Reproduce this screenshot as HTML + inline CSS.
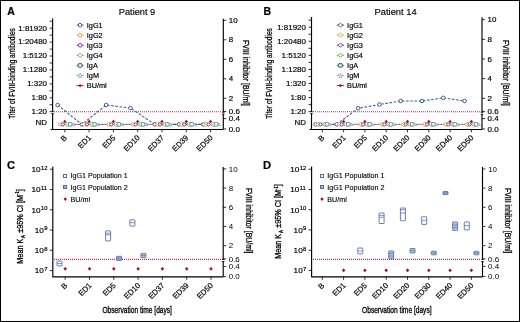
<!DOCTYPE html>
<html><head><meta charset="utf-8"><style>
html,body{margin:0;padding:0;background:#fff;}
svg{display:block;font-family:"Liberation Sans", sans-serif;will-change:transform;}
</style></head><body>
<svg width="520" height="322" viewBox="0 0 520 322">
<rect x="0" y="0" width="520" height="322" fill="#fff"/>
<text transform="translate(7.3,15.0)" font-size="10.5" text-anchor="start" font-weight="bold" fill="#000" stroke="#000" stroke-width="0.2">A</text>
<text transform="translate(118.8,15)" font-size="9.35" text-anchor="start" font-weight="normal" fill="#000" textLength="36.4" lengthAdjust="spacingAndGlyphs" stroke="#000" stroke-width="0.15">Patient 9</text>
<line x1="52.6" y1="18.4" x2="52.6" y2="129.3" stroke="#000" stroke-width="1.15" />
<line x1="49.6" y1="28.2" x2="52.6" y2="28.2" stroke="#000" stroke-width="0.8" />
<line x1="49.6" y1="42.12" x2="52.6" y2="42.12" stroke="#000" stroke-width="0.8" />
<line x1="49.6" y1="56.03" x2="52.6" y2="56.03" stroke="#000" stroke-width="0.8" />
<line x1="49.6" y1="69.95" x2="52.6" y2="69.95" stroke="#000" stroke-width="0.8" />
<line x1="49.6" y1="83.87" x2="52.6" y2="83.87" stroke="#000" stroke-width="0.8" />
<line x1="49.6" y1="97.78" x2="52.6" y2="97.78" stroke="#000" stroke-width="0.8" />
<line x1="49.6" y1="111.7" x2="52.6" y2="111.7" stroke="#000" stroke-width="0.8" />
<line x1="49.6" y1="21.24" x2="52.6" y2="21.24" stroke="#000" stroke-width="0.8" />
<line x1="49.6" y1="35.16" x2="52.6" y2="35.16" stroke="#000" stroke-width="0.8" />
<line x1="49.6" y1="49.08" x2="52.6" y2="49.08" stroke="#000" stroke-width="0.8" />
<line x1="49.6" y1="62.99" x2="52.6" y2="62.99" stroke="#000" stroke-width="0.8" />
<line x1="49.6" y1="76.91" x2="52.6" y2="76.91" stroke="#000" stroke-width="0.8" />
<line x1="49.6" y1="90.82" x2="52.6" y2="90.82" stroke="#000" stroke-width="0.8" />
<line x1="49.6" y1="104.74" x2="52.6" y2="104.74" stroke="#000" stroke-width="0.8" />
<text transform="translate(47.0,30.5) scale(1.02,1)" font-size="7.8" text-anchor="end" font-weight="normal" fill="#000" stroke="#000" stroke-width="0.18">1:81920</text>
<text transform="translate(47.0,44.42) scale(1.02,1)" font-size="7.8" text-anchor="end" font-weight="normal" fill="#000" stroke="#000" stroke-width="0.18">1:20480</text>
<text transform="translate(47.0,58.33) scale(1.02,1)" font-size="7.8" text-anchor="end" font-weight="normal" fill="#000" stroke="#000" stroke-width="0.18">1:5120</text>
<text transform="translate(47.0,72.25) scale(1.02,1)" font-size="7.8" text-anchor="end" font-weight="normal" fill="#000" stroke="#000" stroke-width="0.18">1:1280</text>
<text transform="translate(47.0,86.17) scale(1.02,1)" font-size="7.8" text-anchor="end" font-weight="normal" fill="#000" stroke="#000" stroke-width="0.18">1:320</text>
<text transform="translate(47.0,100.08) scale(1.02,1)" font-size="7.8" text-anchor="end" font-weight="normal" fill="#000" stroke="#000" stroke-width="0.18">1:80</text>
<text transform="translate(47.0,114.0) scale(1.02,1)" font-size="7.8" text-anchor="end" font-weight="normal" fill="#000" stroke="#000" stroke-width="0.18">1:20</text>
<text transform="translate(47.0,124.8) scale(1.02,1)" font-size="7.8" text-anchor="end" font-weight="normal" fill="#000" stroke="#000" stroke-width="0.18">ND</text>
<text transform="translate(14.9,73.4) rotate(-90)" font-size="9.9" text-anchor="middle" font-weight="normal" fill="#000" textLength="90.5" lengthAdjust="spacingAndGlyphs" stroke="#000" stroke-width="0.28">Titer of FVIII-binding antibodies</text>
<line x1="50.6" y1="129.5" x2="223.3" y2="129.5" stroke="#000" stroke-width="1.2" />
<line x1="223.3" y1="18.7" x2="223.3" y2="129.3" stroke="#000" stroke-width="1.15" />
<line x1="223.3" y1="20.3" x2="226.3" y2="20.3" stroke="#000" stroke-width="0.8" />
<text transform="translate(228.8,22.9) scale(1.05,1)" font-size="7.6" text-anchor="start" font-weight="normal" fill="#000" stroke="#000" stroke-width="0.18">10</text>
<line x1="223.3" y1="39.8" x2="226.3" y2="39.8" stroke="#000" stroke-width="0.8" />
<text transform="translate(228.8,42.4) scale(1.05,1)" font-size="7.6" text-anchor="start" font-weight="normal" fill="#000" stroke="#000" stroke-width="0.18">8</text>
<line x1="223.3" y1="59.3" x2="226.3" y2="59.3" stroke="#000" stroke-width="0.8" />
<text transform="translate(228.8,61.9) scale(1.05,1)" font-size="7.6" text-anchor="start" font-weight="normal" fill="#000" stroke="#000" stroke-width="0.18">6</text>
<line x1="223.3" y1="78.8" x2="226.3" y2="78.8" stroke="#000" stroke-width="0.8" />
<text transform="translate(228.8,81.4) scale(1.05,1)" font-size="7.6" text-anchor="start" font-weight="normal" fill="#000" stroke="#000" stroke-width="0.18">4</text>
<line x1="223.3" y1="98.3" x2="226.3" y2="98.3" stroke="#000" stroke-width="0.8" />
<text transform="translate(228.8,100.9) scale(1.05,1)" font-size="7.6" text-anchor="start" font-weight="normal" fill="#000" stroke="#000" stroke-width="0.18">2</text>
<line x1="223.3" y1="111.6" x2="226.3" y2="111.6" stroke="#000" stroke-width="0.8" />
<text transform="translate(228.8,114.2) scale(1.05,1)" font-size="7.6" text-anchor="start" font-weight="normal" fill="#000" stroke="#000" stroke-width="0.18">0.6</text>
<line x1="223.3" y1="118.6" x2="226.3" y2="118.6" stroke="#000" stroke-width="0.8" />
<text transform="translate(228.8,121.2) scale(1.05,1)" font-size="7.6" text-anchor="start" font-weight="normal" fill="#000" stroke="#000" stroke-width="0.18">0.4</text>
<line x1="223.3" y1="129.0" x2="226.3" y2="129.0" stroke="#000" stroke-width="0.8" />
<text transform="translate(228.8,131.6) scale(1.05,1)" font-size="7.6" text-anchor="start" font-weight="normal" fill="#000" stroke="#000" stroke-width="0.18">0.0</text>
<text transform="translate(242.70000000000002,72.9) rotate(90)" font-size="9.2" text-anchor="middle" font-weight="normal" fill="#000" textLength="65.8" lengthAdjust="spacingAndGlyphs" stroke="#000" stroke-width="0.28">FVIII inhibitor [BU/ml]</text>
<rect x="51.00" y="112.10" width="3.2" height="1.2" fill="#fff"/>
<line x1="51.3" y1="111.7" x2="53.9" y2="111.7" stroke="#000" stroke-width="0.8" />
<line x1="51.3" y1="113.7" x2="53.9" y2="113.7" stroke="#000" stroke-width="0.8" />
<rect x="221.70" y="112.60" width="3.2" height="1.2" fill="#fff"/>
<line x1="222.0" y1="112.2" x2="224.6" y2="112.2" stroke="#000" stroke-width="0.8" />
<line x1="222.0" y1="114.2" x2="224.6" y2="114.2" stroke="#000" stroke-width="0.8" />
<line x1="54" y1="111.8" x2="222" y2="111.8" stroke="#c42f5c" stroke-width="1.1" stroke-dasharray="1,1"/>
<line x1="64.8" y1="129.3" x2="64.8" y2="132.3" stroke="#000" stroke-width="0.8" />
<text transform="translate(67.39999999999999,138.3) rotate(-45)" font-size="7.7" text-anchor="end" font-weight="normal" fill="#000" stroke="#000" stroke-width="0.18">B</text>
<line x1="89.1" y1="129.3" x2="89.1" y2="132.3" stroke="#000" stroke-width="0.8" />
<text transform="translate(91.69999999999999,138.3) rotate(-45)" font-size="7.7" text-anchor="end" font-weight="normal" fill="#000" stroke="#000" stroke-width="0.18">ED1</text>
<line x1="113.4" y1="129.3" x2="113.4" y2="132.3" stroke="#000" stroke-width="0.8" />
<text transform="translate(116.0,138.3) rotate(-45)" font-size="7.7" text-anchor="end" font-weight="normal" fill="#000" stroke="#000" stroke-width="0.18">ED5</text>
<line x1="137.7" y1="129.3" x2="137.7" y2="132.3" stroke="#000" stroke-width="0.8" />
<text transform="translate(140.29999999999998,138.3) rotate(-45)" font-size="7.7" text-anchor="end" font-weight="normal" fill="#000" stroke="#000" stroke-width="0.18">ED10</text>
<line x1="162.0" y1="129.3" x2="162.0" y2="132.3" stroke="#000" stroke-width="0.8" />
<text transform="translate(164.6,138.3) rotate(-45)" font-size="7.7" text-anchor="end" font-weight="normal" fill="#000" stroke="#000" stroke-width="0.18">ED37</text>
<line x1="186.3" y1="129.3" x2="186.3" y2="132.3" stroke="#000" stroke-width="0.8" />
<text transform="translate(188.9,138.3) rotate(-45)" font-size="7.7" text-anchor="end" font-weight="normal" fill="#000" stroke="#000" stroke-width="0.18">ED39</text>
<line x1="210.60000000000002" y1="129.3" x2="210.60000000000002" y2="132.3" stroke="#000" stroke-width="0.8" />
<text transform="translate(213.20000000000002,138.3) rotate(-45)" font-size="7.7" text-anchor="end" font-weight="normal" fill="#000" stroke="#000" stroke-width="0.18">ED50</text>
<polyline points="60.199999999999996,124.4 84.5,124.4 108.80000000000001,124.4 133.1,124.4 157.4,124.4 181.70000000000002,124.4 206.00000000000003,124.4" fill="none" stroke="#eaa53c" stroke-width="1"/>
<polyline points="62.699999999999996,124.4 87.0,124.4 111.30000000000001,124.4 135.6,124.4 159.9,124.4 184.20000000000002,124.4 208.50000000000003,124.4" fill="none" stroke="#6a3e92" stroke-width="0.9" stroke-dasharray="1.5,1.5"/>
<polyline points="73.2,124.4 97.5,124.4 121.80000000000001,124.4 146.1,124.4 170.4,124.4 194.70000000000002,124.4 219.00000000000003,124.4" fill="none" stroke="#8e8ed8" stroke-width="0.8" stroke-dasharray="1.5,1.5"/>
<polyline points="57.599999999999994,105 81.89999999999999,124.4 106.2,105 130.5,108.1 154.8,124.4 179.10000000000002,124.4 203.40000000000003,124.4" fill="none" stroke="#3d5c9e" stroke-width="1.1" stroke-dasharray="2.6,1.6"/>
<circle cx="57.599999999999994" cy="105" r="1.8" stroke="#3d5c9e" fill="#fff" stroke-width="1.0"/>
<circle cx="81.89999999999999" cy="124.4" r="1.8" stroke="#3d5c9e" fill="#fff" stroke-width="1.0"/>
<circle cx="106.2" cy="105" r="1.8" stroke="#3d5c9e" fill="#fff" stroke-width="1.0"/>
<circle cx="130.5" cy="108.1" r="1.8" stroke="#3d5c9e" fill="#fff" stroke-width="1.0"/>
<circle cx="154.8" cy="124.4" r="1.8" stroke="#3d5c9e" fill="#fff" stroke-width="1.0"/>
<circle cx="179.10000000000002" cy="124.4" r="1.8" stroke="#3d5c9e" fill="#fff" stroke-width="1.0"/>
<circle cx="203.40000000000003" cy="124.4" r="1.8" stroke="#3d5c9e" fill="#fff" stroke-width="1.0"/>
<circle cx="60.199999999999996" cy="124.4" r="1.8" stroke="#eaa53c" fill="#fff" stroke-width="1.0"/>
<circle cx="62.699999999999996" cy="124.4" r="1.6" stroke="#6a3e92" fill="#fff" stroke-width="1.0"/>
<rect x="65.90" y="122.60" width="3.60" height="3.60" rx="1" fill="#fff" stroke="#6cb34a" stroke-width="0.8"/>
<rect x="68.40" y="122.60" width="3.60" height="3.60" rx="1" fill="#fff" stroke="#2f7557" stroke-width="0.8"/>
<path d="M71.60000000000001,125.68 L73.2,122.80000000000001 L74.8,125.68 Z" fill="#fff" stroke="#8e8ed8" stroke-width="0.8"/>
<circle cx="84.5" cy="124.4" r="1.8" stroke="#eaa53c" fill="#fff" stroke-width="1.0"/>
<circle cx="87.0" cy="124.4" r="1.6" stroke="#6a3e92" fill="#fff" stroke-width="1.0"/>
<rect x="90.20" y="122.60" width="3.60" height="3.60" rx="1" fill="#fff" stroke="#6cb34a" stroke-width="0.8"/>
<rect x="92.70" y="122.60" width="3.60" height="3.60" rx="1" fill="#fff" stroke="#2f7557" stroke-width="0.8"/>
<path d="M95.9,125.68 L97.5,122.80000000000001 L99.1,125.68 Z" fill="#fff" stroke="#8e8ed8" stroke-width="0.8"/>
<circle cx="108.80000000000001" cy="124.4" r="1.8" stroke="#eaa53c" fill="#fff" stroke-width="1.0"/>
<circle cx="111.30000000000001" cy="124.4" r="1.6" stroke="#6a3e92" fill="#fff" stroke-width="1.0"/>
<rect x="114.50" y="122.60" width="3.60" height="3.60" rx="1" fill="#fff" stroke="#6cb34a" stroke-width="0.8"/>
<rect x="117.00" y="122.60" width="3.60" height="3.60" rx="1" fill="#fff" stroke="#2f7557" stroke-width="0.8"/>
<path d="M120.20000000000002,125.68 L121.80000000000001,122.80000000000001 L123.4,125.68 Z" fill="#fff" stroke="#8e8ed8" stroke-width="0.8"/>
<circle cx="133.1" cy="124.4" r="1.8" stroke="#eaa53c" fill="#fff" stroke-width="1.0"/>
<circle cx="135.6" cy="124.4" r="1.6" stroke="#6a3e92" fill="#fff" stroke-width="1.0"/>
<rect x="138.80" y="122.60" width="3.60" height="3.60" rx="1" fill="#fff" stroke="#6cb34a" stroke-width="0.8"/>
<rect x="141.30" y="122.60" width="3.60" height="3.60" rx="1" fill="#fff" stroke="#2f7557" stroke-width="0.8"/>
<path d="M144.5,125.68 L146.1,122.80000000000001 L147.7,125.68 Z" fill="#fff" stroke="#8e8ed8" stroke-width="0.8"/>
<circle cx="157.4" cy="124.4" r="1.8" stroke="#eaa53c" fill="#fff" stroke-width="1.0"/>
<circle cx="159.9" cy="124.4" r="1.6" stroke="#6a3e92" fill="#fff" stroke-width="1.0"/>
<rect x="163.10" y="122.60" width="3.60" height="3.60" rx="1" fill="#fff" stroke="#6cb34a" stroke-width="0.8"/>
<rect x="165.60" y="122.60" width="3.60" height="3.60" rx="1" fill="#fff" stroke="#2f7557" stroke-width="0.8"/>
<path d="M168.8,125.68 L170.4,122.80000000000001 L172.0,125.68 Z" fill="#fff" stroke="#8e8ed8" stroke-width="0.8"/>
<circle cx="181.70000000000002" cy="124.4" r="1.8" stroke="#eaa53c" fill="#fff" stroke-width="1.0"/>
<circle cx="184.20000000000002" cy="124.4" r="1.6" stroke="#6a3e92" fill="#fff" stroke-width="1.0"/>
<rect x="187.40" y="122.60" width="3.60" height="3.60" rx="1" fill="#fff" stroke="#6cb34a" stroke-width="0.8"/>
<rect x="189.90" y="122.60" width="3.60" height="3.60" rx="1" fill="#fff" stroke="#2f7557" stroke-width="0.8"/>
<path d="M193.10000000000002,125.68 L194.70000000000002,122.80000000000001 L196.3,125.68 Z" fill="#fff" stroke="#8e8ed8" stroke-width="0.8"/>
<circle cx="206.00000000000003" cy="124.4" r="1.8" stroke="#eaa53c" fill="#fff" stroke-width="1.0"/>
<circle cx="208.50000000000003" cy="124.4" r="1.6" stroke="#6a3e92" fill="#fff" stroke-width="1.0"/>
<rect x="211.70" y="122.60" width="3.60" height="3.60" rx="1" fill="#fff" stroke="#6cb34a" stroke-width="0.8"/>
<rect x="214.20" y="122.60" width="3.60" height="3.60" rx="1" fill="#fff" stroke="#2f7557" stroke-width="0.8"/>
<path d="M217.40000000000003,125.68 L219.00000000000003,122.80000000000001 L220.60000000000002,125.68 Z" fill="#fff" stroke="#8e8ed8" stroke-width="0.8"/>
<path d="M63.199999999999996,121.4 L64.8,119.65 L66.39999999999999,121.4 L64.8,123.15 Z" fill="#a50d2a"/>
<path d="M87.5,121.4 L89.1,119.65 L90.69999999999999,121.4 L89.1,123.15 Z" fill="#a50d2a"/>
<path d="M111.80000000000001,121.4 L113.4,119.65 L115.0,121.4 L113.4,123.15 Z" fill="#a50d2a"/>
<path d="M136.1,121.4 L137.7,119.65 L139.29999999999998,121.4 L137.7,123.15 Z" fill="#a50d2a"/>
<path d="M160.4,121.4 L162.0,119.65 L163.6,121.4 L162.0,123.15 Z" fill="#a50d2a"/>
<path d="M184.70000000000002,121.4 L186.3,119.65 L187.9,121.4 L186.3,123.15 Z" fill="#a50d2a"/>
<path d="M209.00000000000003,121.4 L210.60000000000002,119.65 L212.20000000000002,121.4 L210.60000000000002,123.15 Z" fill="#a50d2a"/>
<line x1="76.5" y1="25.1" x2="83.69999999999999" y2="25.1" stroke="#3d5c9e" stroke-width="0.9" />
<circle cx="80.1" cy="25.1" r="1.8" stroke="#3d5c9e" fill="#fff" stroke-width="1.0"/>
<text transform="translate(86.8,27.65)" font-size="7.3" text-anchor="start" font-weight="normal" fill="#000" stroke="#000" stroke-width="0.18">IgG1</text>
<line x1="76.5" y1="35.18" x2="83.69999999999999" y2="35.18" stroke="#eaa53c" stroke-width="0.9" />
<circle cx="80.1" cy="35.18" r="1.8" stroke="#eaa53c" fill="#fff" stroke-width="1.0"/>
<text transform="translate(86.8,37.73)" font-size="7.3" text-anchor="start" font-weight="normal" fill="#000" stroke="#000" stroke-width="0.18">IgG2</text>
<line x1="76.5" y1="45.260000000000005" x2="83.69999999999999" y2="45.260000000000005" stroke="#6a3e92" stroke-width="0.9" />
<circle cx="80.1" cy="45.260000000000005" r="1.8" stroke="#6a3e92" fill="#fff" stroke-width="1.0"/>
<text transform="translate(86.8,47.81)" font-size="7.3" text-anchor="start" font-weight="normal" fill="#000" stroke="#000" stroke-width="0.18">IgG3</text>
<line x1="76.5" y1="55.34" x2="83.69999999999999" y2="55.34" stroke="#6cb34a" stroke-width="0.9" />
<path d="M77.5,55.34 L80.1,53.440000000000005 L82.69999999999999,55.34 L80.1,57.24 Z" fill="#fff" stroke="#6cb34a" stroke-width="0.9"/>
<text transform="translate(86.8,57.89)" font-size="7.3" text-anchor="start" font-weight="normal" fill="#000" stroke="#000" stroke-width="0.18">IgG4</text>
<line x1="76.5" y1="65.42" x2="83.69999999999999" y2="65.42" stroke="#2f7557" stroke-width="0.9" />
<polygon points="82.13,66.18 80.94,67.25 79.26,67.25 78.07,66.18 78.07,64.66 79.26,63.59 80.94,63.59 82.13,64.66" fill="#fff" stroke="#2f7557" stroke-width="1.1"/>
<text transform="translate(86.8,67.97)" font-size="7.3" text-anchor="start" font-weight="normal" fill="#000" stroke="#000" stroke-width="0.18">IgA</text>
<line x1="76.5" y1="75.5" x2="83.69999999999999" y2="75.5" stroke="#8e8ed8" stroke-width="0.9" />
<polygon points="80.10,73.40 80.73,74.93 82.38,75.06 81.13,76.13 81.51,77.74 80.10,76.88 78.69,77.74 79.07,76.13 77.82,75.06 79.47,74.93" fill="#fff" stroke="#8e8ed8" stroke-width="0.8"/>
<text transform="translate(86.8,78.05)" font-size="7.3" text-anchor="start" font-weight="normal" fill="#000" stroke="#000" stroke-width="0.18">IgM</text>
<line x1="76.5" y1="85.58000000000001" x2="83.69999999999999" y2="85.58000000000001" stroke="#a50d2a" stroke-width="0.9" />
<path d="M78.39999999999999,85.58000000000001 L80.1,83.88000000000001 L81.8,85.58000000000001 L80.1,87.28000000000002 Z" fill="#a50d2a"/>
<text transform="translate(86.8,88.13)" font-size="7.3" text-anchor="start" font-weight="normal" fill="#000" stroke="#000" stroke-width="0.18">BU/ml</text>
<text transform="translate(263.4,15.0)" font-size="10.5" text-anchor="start" font-weight="bold" fill="#000" stroke="#000" stroke-width="0.2">B</text>
<text transform="translate(374.6,15)" font-size="9.35" text-anchor="start" font-weight="normal" fill="#000" textLength="42.0" lengthAdjust="spacingAndGlyphs" stroke="#000" stroke-width="0.15">Patient 14</text>
<line x1="311.5" y1="17.0" x2="311.5" y2="129.3" stroke="#000" stroke-width="1.15" />
<line x1="308.5" y1="27.2" x2="311.5" y2="27.2" stroke="#000" stroke-width="0.8" />
<line x1="308.5" y1="41.28" x2="311.5" y2="41.28" stroke="#000" stroke-width="0.8" />
<line x1="308.5" y1="55.37" x2="311.5" y2="55.37" stroke="#000" stroke-width="0.8" />
<line x1="308.5" y1="69.45" x2="311.5" y2="69.45" stroke="#000" stroke-width="0.8" />
<line x1="308.5" y1="83.53" x2="311.5" y2="83.53" stroke="#000" stroke-width="0.8" />
<line x1="308.5" y1="97.62" x2="311.5" y2="97.62" stroke="#000" stroke-width="0.8" />
<line x1="308.5" y1="111.7" x2="311.5" y2="111.7" stroke="#000" stroke-width="0.8" />
<line x1="308.5" y1="20.16" x2="311.5" y2="20.16" stroke="#000" stroke-width="0.8" />
<line x1="308.5" y1="34.24" x2="311.5" y2="34.24" stroke="#000" stroke-width="0.8" />
<line x1="308.5" y1="48.33" x2="311.5" y2="48.33" stroke="#000" stroke-width="0.8" />
<line x1="308.5" y1="62.41" x2="311.5" y2="62.41" stroke="#000" stroke-width="0.8" />
<line x1="308.5" y1="76.49" x2="311.5" y2="76.49" stroke="#000" stroke-width="0.8" />
<line x1="308.5" y1="90.58" x2="311.5" y2="90.58" stroke="#000" stroke-width="0.8" />
<line x1="308.5" y1="104.66" x2="311.5" y2="104.66" stroke="#000" stroke-width="0.8" />
<text transform="translate(305.9,29.5) scale(1.02,1)" font-size="7.8" text-anchor="end" font-weight="normal" fill="#000" stroke="#000" stroke-width="0.18">1:81920</text>
<text transform="translate(305.9,43.58) scale(1.02,1)" font-size="7.8" text-anchor="end" font-weight="normal" fill="#000" stroke="#000" stroke-width="0.18">1:20480</text>
<text transform="translate(305.9,57.67) scale(1.02,1)" font-size="7.8" text-anchor="end" font-weight="normal" fill="#000" stroke="#000" stroke-width="0.18">1:5120</text>
<text transform="translate(305.9,71.75) scale(1.02,1)" font-size="7.8" text-anchor="end" font-weight="normal" fill="#000" stroke="#000" stroke-width="0.18">1:1280</text>
<text transform="translate(305.9,85.83) scale(1.02,1)" font-size="7.8" text-anchor="end" font-weight="normal" fill="#000" stroke="#000" stroke-width="0.18">1:320</text>
<text transform="translate(305.9,99.92) scale(1.02,1)" font-size="7.8" text-anchor="end" font-weight="normal" fill="#000" stroke="#000" stroke-width="0.18">1:80</text>
<text transform="translate(305.9,114.0) scale(1.02,1)" font-size="7.8" text-anchor="end" font-weight="normal" fill="#000" stroke="#000" stroke-width="0.18">1:20</text>
<text transform="translate(305.9,124.8) scale(1.02,1)" font-size="7.8" text-anchor="end" font-weight="normal" fill="#000" stroke="#000" stroke-width="0.18">ND</text>
<text transform="translate(271.6,73.4) rotate(-90)" font-size="9.9" text-anchor="middle" font-weight="normal" fill="#000" textLength="90.5" lengthAdjust="spacingAndGlyphs" stroke="#000" stroke-width="0.28">Titer of FVIII-binding antibodies</text>
<line x1="309.5" y1="129.5" x2="482" y2="129.5" stroke="#000" stroke-width="1.2" />
<line x1="482" y1="17.3" x2="482" y2="129.3" stroke="#000" stroke-width="1.15" />
<line x1="482" y1="19.7" x2="485" y2="19.7" stroke="#000" stroke-width="0.8" />
<text transform="translate(487.5,22.3) scale(1.05,1)" font-size="7.6" text-anchor="start" font-weight="normal" fill="#000" stroke="#000" stroke-width="0.18">10</text>
<line x1="482" y1="39.35" x2="485" y2="39.35" stroke="#000" stroke-width="0.8" />
<text transform="translate(487.5,41.95) scale(1.05,1)" font-size="7.6" text-anchor="start" font-weight="normal" fill="#000" stroke="#000" stroke-width="0.18">8</text>
<line x1="482" y1="59.0" x2="485" y2="59.0" stroke="#000" stroke-width="0.8" />
<text transform="translate(487.5,61.6) scale(1.05,1)" font-size="7.6" text-anchor="start" font-weight="normal" fill="#000" stroke="#000" stroke-width="0.18">6</text>
<line x1="482" y1="78.65" x2="485" y2="78.65" stroke="#000" stroke-width="0.8" />
<text transform="translate(487.5,81.25) scale(1.05,1)" font-size="7.6" text-anchor="start" font-weight="normal" fill="#000" stroke="#000" stroke-width="0.18">4</text>
<line x1="482" y1="98.3" x2="485" y2="98.3" stroke="#000" stroke-width="0.8" />
<text transform="translate(487.5,100.9) scale(1.05,1)" font-size="7.6" text-anchor="start" font-weight="normal" fill="#000" stroke="#000" stroke-width="0.18">2</text>
<line x1="482" y1="111.6" x2="485" y2="111.6" stroke="#000" stroke-width="0.8" />
<text transform="translate(487.5,114.2) scale(1.05,1)" font-size="7.6" text-anchor="start" font-weight="normal" fill="#000" stroke="#000" stroke-width="0.18">0.6</text>
<line x1="482" y1="118.6" x2="485" y2="118.6" stroke="#000" stroke-width="0.8" />
<text transform="translate(487.5,121.2) scale(1.05,1)" font-size="7.6" text-anchor="start" font-weight="normal" fill="#000" stroke="#000" stroke-width="0.18">0.4</text>
<line x1="482" y1="129.0" x2="485" y2="129.0" stroke="#000" stroke-width="0.8" />
<text transform="translate(487.5,131.6) scale(1.05,1)" font-size="7.6" text-anchor="start" font-weight="normal" fill="#000" stroke="#000" stroke-width="0.18">0.0</text>
<text transform="translate(502.9,72.9) rotate(90)" font-size="9.2" text-anchor="middle" font-weight="normal" fill="#000" textLength="65.8" lengthAdjust="spacingAndGlyphs" stroke="#000" stroke-width="0.28">FVIII inhibitor [BU/ml]</text>
<rect x="309.90" y="112.10" width="3.2" height="1.2" fill="#fff"/>
<line x1="310.2" y1="111.7" x2="312.8" y2="111.7" stroke="#000" stroke-width="0.8" />
<line x1="310.2" y1="113.7" x2="312.8" y2="113.7" stroke="#000" stroke-width="0.8" />
<rect x="480.40" y="112.60" width="3.2" height="1.2" fill="#fff"/>
<line x1="480.7" y1="112.2" x2="483.3" y2="112.2" stroke="#000" stroke-width="0.8" />
<line x1="480.7" y1="114.2" x2="483.3" y2="114.2" stroke="#000" stroke-width="0.8" />
<line x1="313" y1="111.8" x2="481" y2="111.8" stroke="#c42f5c" stroke-width="1.1" stroke-dasharray="1,1"/>
<line x1="322.3" y1="129.3" x2="322.3" y2="132.3" stroke="#000" stroke-width="0.8" />
<text transform="translate(324.90000000000003,138.3) rotate(-45)" font-size="7.7" text-anchor="end" font-weight="normal" fill="#000" stroke="#000" stroke-width="0.18">B</text>
<line x1="343.6" y1="129.3" x2="343.6" y2="132.3" stroke="#000" stroke-width="0.8" />
<text transform="translate(346.20000000000005,138.3) rotate(-45)" font-size="7.7" text-anchor="end" font-weight="normal" fill="#000" stroke="#000" stroke-width="0.18">ED1</text>
<line x1="364.90000000000003" y1="129.3" x2="364.90000000000003" y2="132.3" stroke="#000" stroke-width="0.8" />
<text transform="translate(367.50000000000006,138.3) rotate(-45)" font-size="7.7" text-anchor="end" font-weight="normal" fill="#000" stroke="#000" stroke-width="0.18">ED5</text>
<line x1="386.20000000000005" y1="129.3" x2="386.20000000000005" y2="132.3" stroke="#000" stroke-width="0.8" />
<text transform="translate(388.80000000000007,138.3) rotate(-45)" font-size="7.7" text-anchor="end" font-weight="normal" fill="#000" stroke="#000" stroke-width="0.18">ED10</text>
<line x1="407.5" y1="129.3" x2="407.5" y2="132.3" stroke="#000" stroke-width="0.8" />
<text transform="translate(410.1,138.3) rotate(-45)" font-size="7.7" text-anchor="end" font-weight="normal" fill="#000" stroke="#000" stroke-width="0.18">ED20</text>
<line x1="428.8" y1="129.3" x2="428.8" y2="132.3" stroke="#000" stroke-width="0.8" />
<text transform="translate(431.40000000000003,138.3) rotate(-45)" font-size="7.7" text-anchor="end" font-weight="normal" fill="#000" stroke="#000" stroke-width="0.18">ED30</text>
<line x1="450.1" y1="129.3" x2="450.1" y2="132.3" stroke="#000" stroke-width="0.8" />
<text transform="translate(452.70000000000005,138.3) rotate(-45)" font-size="7.7" text-anchor="end" font-weight="normal" fill="#000" stroke="#000" stroke-width="0.18">ED40</text>
<line x1="471.4" y1="129.3" x2="471.4" y2="132.3" stroke="#000" stroke-width="0.8" />
<text transform="translate(474.0,138.3) rotate(-45)" font-size="7.7" text-anchor="end" font-weight="normal" fill="#000" stroke="#000" stroke-width="0.18">ED50</text>
<polyline points="318.2679012345679,124.4 339.5679012345679,124.4 360.8679012345679,124.4 382.1679012345679,124.4 403.4679012345679,124.4 424.7679012345679,124.4 446.0679012345679,124.4 467.36790123456785,124.4" fill="none" stroke="#eaa53c" stroke-width="1"/>
<polyline points="320.4592592592593,124.4 341.7592592592593,124.4 363.0592592592593,124.4 384.3592592592593,124.4 405.6592592592593,124.4 426.9592592592593,124.4 448.2592592592593,124.4 469.55925925925925,124.4" fill="none" stroke="#6a3e92" stroke-width="0.9" stroke-dasharray="1.5,1.5"/>
<polyline points="329.662962962963,124.4 350.962962962963,124.4 372.262962962963,124.4 393.562962962963,124.4 414.86296296296297,124.4 436.162962962963,124.4 457.462962962963,124.4 478.76296296296294,124.4" fill="none" stroke="#8e8ed8" stroke-width="0.8" stroke-dasharray="1.5,1.5"/>
<polyline points="315.5,124.4 336.8,124.4 358.1,108.3 379.40000000000003,104.5 400.7,101 422.0,101 443.3,97.9 464.59999999999997,101" fill="none" stroke="#3d5c9e" stroke-width="1.1" stroke-dasharray="2.6,1.6"/>
<circle cx="315.5" cy="124.4" r="1.8" stroke="#3d5c9e" fill="#fff" stroke-width="1.0"/>
<circle cx="336.8" cy="124.4" r="1.8" stroke="#3d5c9e" fill="#fff" stroke-width="1.0"/>
<circle cx="358.1" cy="108.3" r="1.8" stroke="#3d5c9e" fill="#fff" stroke-width="1.0"/>
<circle cx="379.40000000000003" cy="104.5" r="1.8" stroke="#3d5c9e" fill="#fff" stroke-width="1.0"/>
<circle cx="400.7" cy="101" r="1.8" stroke="#3d5c9e" fill="#fff" stroke-width="1.0"/>
<circle cx="422.0" cy="101" r="1.8" stroke="#3d5c9e" fill="#fff" stroke-width="1.0"/>
<circle cx="443.3" cy="97.9" r="1.8" stroke="#3d5c9e" fill="#fff" stroke-width="1.0"/>
<circle cx="464.59999999999997" cy="101" r="1.8" stroke="#3d5c9e" fill="#fff" stroke-width="1.0"/>
<circle cx="318.2679012345679" cy="124.4" r="1.8" stroke="#eaa53c" fill="#fff" stroke-width="1.0"/>
<circle cx="320.4592592592593" cy="124.4" r="1.6" stroke="#6a3e92" fill="#fff" stroke-width="1.0"/>
<rect x="323.04" y="122.60" width="3.60" height="3.60" rx="1" fill="#fff" stroke="#6cb34a" stroke-width="0.8"/>
<rect x="325.23" y="122.60" width="3.60" height="3.60" rx="1" fill="#fff" stroke="#2f7557" stroke-width="0.8"/>
<path d="M328.06296296296296,125.68 L329.662962962963,122.80000000000001 L331.262962962963,125.68 Z" fill="#fff" stroke="#8e8ed8" stroke-width="0.8"/>
<circle cx="339.5679012345679" cy="124.4" r="1.8" stroke="#eaa53c" fill="#fff" stroke-width="1.0"/>
<circle cx="341.7592592592593" cy="124.4" r="1.6" stroke="#6a3e92" fill="#fff" stroke-width="1.0"/>
<rect x="344.34" y="122.60" width="3.60" height="3.60" rx="1" fill="#fff" stroke="#6cb34a" stroke-width="0.8"/>
<rect x="346.53" y="122.60" width="3.60" height="3.60" rx="1" fill="#fff" stroke="#2f7557" stroke-width="0.8"/>
<path d="M349.36296296296297,125.68 L350.962962962963,122.80000000000001 L352.562962962963,125.68 Z" fill="#fff" stroke="#8e8ed8" stroke-width="0.8"/>
<circle cx="360.8679012345679" cy="124.4" r="1.8" stroke="#eaa53c" fill="#fff" stroke-width="1.0"/>
<circle cx="363.0592592592593" cy="124.4" r="1.6" stroke="#6a3e92" fill="#fff" stroke-width="1.0"/>
<rect x="365.64" y="122.60" width="3.60" height="3.60" rx="1" fill="#fff" stroke="#6cb34a" stroke-width="0.8"/>
<rect x="367.83" y="122.60" width="3.60" height="3.60" rx="1" fill="#fff" stroke="#2f7557" stroke-width="0.8"/>
<path d="M370.662962962963,125.68 L372.262962962963,122.80000000000001 L373.862962962963,125.68 Z" fill="#fff" stroke="#8e8ed8" stroke-width="0.8"/>
<circle cx="382.1679012345679" cy="124.4" r="1.8" stroke="#eaa53c" fill="#fff" stroke-width="1.0"/>
<circle cx="384.3592592592593" cy="124.4" r="1.6" stroke="#6a3e92" fill="#fff" stroke-width="1.0"/>
<rect x="386.94" y="122.60" width="3.60" height="3.60" rx="1" fill="#fff" stroke="#6cb34a" stroke-width="0.8"/>
<rect x="389.13" y="122.60" width="3.60" height="3.60" rx="1" fill="#fff" stroke="#2f7557" stroke-width="0.8"/>
<path d="M391.962962962963,125.68 L393.562962962963,122.80000000000001 L395.16296296296304,125.68 Z" fill="#fff" stroke="#8e8ed8" stroke-width="0.8"/>
<circle cx="403.4679012345679" cy="124.4" r="1.8" stroke="#eaa53c" fill="#fff" stroke-width="1.0"/>
<circle cx="405.6592592592593" cy="124.4" r="1.6" stroke="#6a3e92" fill="#fff" stroke-width="1.0"/>
<rect x="408.24" y="122.60" width="3.60" height="3.60" rx="1" fill="#fff" stroke="#6cb34a" stroke-width="0.8"/>
<rect x="410.43" y="122.60" width="3.60" height="3.60" rx="1" fill="#fff" stroke="#2f7557" stroke-width="0.8"/>
<path d="M413.26296296296294,125.68 L414.86296296296297,122.80000000000001 L416.462962962963,125.68 Z" fill="#fff" stroke="#8e8ed8" stroke-width="0.8"/>
<circle cx="424.7679012345679" cy="124.4" r="1.8" stroke="#eaa53c" fill="#fff" stroke-width="1.0"/>
<circle cx="426.9592592592593" cy="124.4" r="1.6" stroke="#6a3e92" fill="#fff" stroke-width="1.0"/>
<rect x="429.54" y="122.60" width="3.60" height="3.60" rx="1" fill="#fff" stroke="#6cb34a" stroke-width="0.8"/>
<rect x="431.73" y="122.60" width="3.60" height="3.60" rx="1" fill="#fff" stroke="#2f7557" stroke-width="0.8"/>
<path d="M434.56296296296296,125.68 L436.162962962963,122.80000000000001 L437.762962962963,125.68 Z" fill="#fff" stroke="#8e8ed8" stroke-width="0.8"/>
<circle cx="446.0679012345679" cy="124.4" r="1.8" stroke="#eaa53c" fill="#fff" stroke-width="1.0"/>
<circle cx="448.2592592592593" cy="124.4" r="1.6" stroke="#6a3e92" fill="#fff" stroke-width="1.0"/>
<rect x="450.84" y="122.60" width="3.60" height="3.60" rx="1" fill="#fff" stroke="#6cb34a" stroke-width="0.8"/>
<rect x="453.03" y="122.60" width="3.60" height="3.60" rx="1" fill="#fff" stroke="#2f7557" stroke-width="0.8"/>
<path d="M455.86296296296297,125.68 L457.462962962963,122.80000000000001 L459.062962962963,125.68 Z" fill="#fff" stroke="#8e8ed8" stroke-width="0.8"/>
<circle cx="467.36790123456785" cy="124.4" r="1.8" stroke="#eaa53c" fill="#fff" stroke-width="1.0"/>
<circle cx="469.55925925925925" cy="124.4" r="1.6" stroke="#6a3e92" fill="#fff" stroke-width="1.0"/>
<rect x="472.14" y="122.60" width="3.60" height="3.60" rx="1" fill="#fff" stroke="#6cb34a" stroke-width="0.8"/>
<rect x="474.33" y="122.60" width="3.60" height="3.60" rx="1" fill="#fff" stroke="#2f7557" stroke-width="0.8"/>
<path d="M477.1629629629629,125.68 L478.76296296296294,122.80000000000001 L480.36296296296297,125.68 Z" fill="#fff" stroke="#8e8ed8" stroke-width="0.8"/>
<path d="M342.0,121.4 L343.6,119.65 L345.20000000000005,121.4 L343.6,123.15 Z" fill="#a50d2a"/>
<path d="M363.3,121.4 L364.90000000000003,119.65 L366.50000000000006,121.4 L364.90000000000003,123.15 Z" fill="#a50d2a"/>
<path d="M384.6,121.4 L386.20000000000005,119.65 L387.80000000000007,121.4 L386.20000000000005,123.15 Z" fill="#a50d2a"/>
<path d="M405.9,121.4 L407.5,119.65 L409.1,121.4 L407.5,123.15 Z" fill="#a50d2a"/>
<path d="M427.2,121.4 L428.8,119.65 L430.40000000000003,121.4 L428.8,123.15 Z" fill="#a50d2a"/>
<path d="M448.5,121.4 L450.1,119.65 L451.70000000000005,121.4 L450.1,123.15 Z" fill="#a50d2a"/>
<path d="M469.79999999999995,121.4 L471.4,119.65 L473.0,121.4 L471.4,123.15 Z" fill="#a50d2a"/>
<line x1="336.79999999999995" y1="25.1" x2="344.0" y2="25.1" stroke="#3d5c9e" stroke-width="0.9" />
<path d="M337.79999999999995,25.1 L340.4,23.200000000000003 L343.0,25.1 L340.4,27.0 Z" fill="#fff" stroke="#3d5c9e" stroke-width="0.9"/>
<text transform="translate(347.09999999999997,27.65)" font-size="7.3" text-anchor="start" font-weight="normal" fill="#000" stroke="#000" stroke-width="0.18">IgG1</text>
<line x1="336.79999999999995" y1="35.18" x2="344.0" y2="35.18" stroke="#eaa53c" stroke-width="0.9" />
<path d="M337.79999999999995,35.18 L340.4,33.28 L343.0,35.18 L340.4,37.08 Z" fill="#fff" stroke="#eaa53c" stroke-width="0.9"/>
<text transform="translate(347.09999999999997,37.73)" font-size="7.3" text-anchor="start" font-weight="normal" fill="#000" stroke="#000" stroke-width="0.18">IgG2</text>
<line x1="336.79999999999995" y1="45.260000000000005" x2="344.0" y2="45.260000000000005" stroke="#6a3e92" stroke-width="0.9" />
<path d="M337.79999999999995,45.260000000000005 L340.4,43.36000000000001 L343.0,45.260000000000005 L340.4,47.160000000000004 Z" fill="#fff" stroke="#6a3e92" stroke-width="0.9"/>
<text transform="translate(347.09999999999997,47.81)" font-size="7.3" text-anchor="start" font-weight="normal" fill="#000" stroke="#000" stroke-width="0.18">IgG3</text>
<line x1="336.79999999999995" y1="55.34" x2="344.0" y2="55.34" stroke="#6cb34a" stroke-width="0.9" />
<path d="M337.79999999999995,55.34 L340.4,53.440000000000005 L343.0,55.34 L340.4,57.24 Z" fill="#fff" stroke="#6cb34a" stroke-width="0.9"/>
<text transform="translate(347.09999999999997,57.89)" font-size="7.3" text-anchor="start" font-weight="normal" fill="#000" stroke="#000" stroke-width="0.18">IgG4</text>
<line x1="336.79999999999995" y1="65.42" x2="344.0" y2="65.42" stroke="#2f7557" stroke-width="0.9" />
<polygon points="342.43,66.18 341.24,67.25 339.56,67.25 338.37,66.18 338.37,64.66 339.56,63.59 341.24,63.59 342.43,64.66" fill="#fff" stroke="#2f7557" stroke-width="1.1"/>
<text transform="translate(347.09999999999997,67.97)" font-size="7.3" text-anchor="start" font-weight="normal" fill="#000" stroke="#000" stroke-width="0.18">IgA</text>
<line x1="336.79999999999995" y1="75.5" x2="344.0" y2="75.5" stroke="#8e8ed8" stroke-width="0.9" />
<polygon points="340.40,73.40 341.03,74.93 342.68,75.06 341.43,76.13 341.81,77.74 340.40,76.88 338.99,77.74 339.37,76.13 338.12,75.06 339.77,74.93" fill="#fff" stroke="#8e8ed8" stroke-width="0.8"/>
<text transform="translate(347.09999999999997,78.05)" font-size="7.3" text-anchor="start" font-weight="normal" fill="#000" stroke="#000" stroke-width="0.18">IgM</text>
<line x1="336.79999999999995" y1="85.58000000000001" x2="344.0" y2="85.58000000000001" stroke="#a50d2a" stroke-width="0.9" />
<path d="M338.7,85.58000000000001 L340.4,83.88000000000001 L342.09999999999997,85.58000000000001 L340.4,87.28000000000002 Z" fill="#a50d2a"/>
<text transform="translate(347.09999999999997,88.13)" font-size="7.3" text-anchor="start" font-weight="normal" fill="#000" stroke="#000" stroke-width="0.18">BU/ml</text>
<text transform="translate(7.1,169.0)" font-size="11.2" text-anchor="start" font-weight="bold" fill="#000" stroke="#000" stroke-width="0.2">C</text>
<line x1="52.8" y1="166.5" x2="52.8" y2="276.8" stroke="#000" stroke-width="1.15" />
<line x1="49.8" y1="169.2" x2="52.8" y2="169.2" stroke="#000" stroke-width="0.8" />
<text transform="translate(40.599999999999994,172.1) scale(1.05,1)" font-size="7.8" text-anchor="end" font-weight="normal" fill="#000" stroke="#000" stroke-width="0.18">10</text>
<text transform="translate(40.9,169.5)" font-size="5.9" text-anchor="start" font-weight="normal" fill="#000" stroke="#000" stroke-width="0.18">12</text>
<line x1="49.8" y1="189.47" x2="52.8" y2="189.47" stroke="#000" stroke-width="0.8" />
<text transform="translate(40.599999999999994,192.37) scale(1.05,1)" font-size="7.8" text-anchor="end" font-weight="normal" fill="#000" stroke="#000" stroke-width="0.18">10</text>
<text transform="translate(40.9,189.77)" font-size="5.9" text-anchor="start" font-weight="normal" fill="#000" stroke="#000" stroke-width="0.18">11</text>
<line x1="49.8" y1="209.73999999999998" x2="52.8" y2="209.73999999999998" stroke="#000" stroke-width="0.8" />
<text transform="translate(40.599999999999994,212.64) scale(1.05,1)" font-size="7.8" text-anchor="end" font-weight="normal" fill="#000" stroke="#000" stroke-width="0.18">10</text>
<text transform="translate(40.9,210.04)" font-size="5.9" text-anchor="start" font-weight="normal" fill="#000" stroke="#000" stroke-width="0.18">10</text>
<line x1="49.8" y1="230.01" x2="52.8" y2="230.01" stroke="#000" stroke-width="0.8" />
<text transform="translate(43.9,232.91) scale(1.05,1)" font-size="7.8" text-anchor="end" font-weight="normal" fill="#000" stroke="#000" stroke-width="0.18">10</text>
<text transform="translate(44.2,230.31)" font-size="5.9" text-anchor="start" font-weight="normal" fill="#000" stroke="#000" stroke-width="0.18">9</text>
<line x1="49.8" y1="250.27999999999997" x2="52.8" y2="250.27999999999997" stroke="#000" stroke-width="0.8" />
<text transform="translate(43.9,253.18) scale(1.05,1)" font-size="7.8" text-anchor="end" font-weight="normal" fill="#000" stroke="#000" stroke-width="0.18">10</text>
<text transform="translate(44.2,250.58)" font-size="5.9" text-anchor="start" font-weight="normal" fill="#000" stroke="#000" stroke-width="0.18">8</text>
<line x1="49.8" y1="270.54999999999995" x2="52.8" y2="270.54999999999995" stroke="#000" stroke-width="0.8" />
<text transform="translate(43.9,273.45) scale(1.05,1)" font-size="7.8" text-anchor="end" font-weight="normal" fill="#000" stroke="#000" stroke-width="0.18">10</text>
<text transform="translate(44.2,270.85)" font-size="5.9" text-anchor="start" font-weight="normal" fill="#000" stroke="#000" stroke-width="0.18">7</text>
<line x1="52.3" y1="276.8" x2="223.2" y2="276.8" stroke="#000" stroke-width="1.2" />
<line x1="223.2" y1="167.0" x2="223.2" y2="276.8" stroke="#000" stroke-width="1.15" />
<line x1="223.2" y1="168.9" x2="226.2" y2="168.9" stroke="#000" stroke-width="0.8" />
<text transform="translate(228.7,171.5) scale(1.05,1)" font-size="7.6" text-anchor="start" font-weight="normal" fill="#000" >10</text>
<line x1="223.2" y1="188.1" x2="226.2" y2="188.1" stroke="#000" stroke-width="0.8" />
<text transform="translate(228.7,190.7) scale(1.05,1)" font-size="7.6" text-anchor="start" font-weight="normal" fill="#000" >8</text>
<line x1="223.2" y1="207.3" x2="226.2" y2="207.3" stroke="#000" stroke-width="0.8" />
<text transform="translate(228.7,209.9) scale(1.05,1)" font-size="7.6" text-anchor="start" font-weight="normal" fill="#000" >6</text>
<line x1="223.2" y1="226.5" x2="226.2" y2="226.5" stroke="#000" stroke-width="0.8" />
<text transform="translate(228.7,229.1) scale(1.05,1)" font-size="7.6" text-anchor="start" font-weight="normal" fill="#000" >4</text>
<line x1="223.2" y1="245.7" x2="226.2" y2="245.7" stroke="#000" stroke-width="0.8" />
<text transform="translate(228.7,248.29999999999998) scale(1.05,1)" font-size="7.6" text-anchor="start" font-weight="normal" fill="#000" >2</text>
<line x1="223.2" y1="258.9" x2="226.2" y2="258.9" stroke="#000" stroke-width="0.8" />
<text transform="translate(228.7,261.5) scale(1.05,1)" font-size="7.6" text-anchor="start" font-weight="normal" fill="#000" >0.6</text>
<line x1="223.2" y1="266.4" x2="226.2" y2="266.4" stroke="#000" stroke-width="0.8" />
<text transform="translate(228.7,269.0) scale(1.05,1)" font-size="7.6" text-anchor="start" font-weight="normal" fill="#000" >0.4</text>
<line x1="223.2" y1="276.6" x2="226.2" y2="276.6" stroke="#000" stroke-width="0.8" />
<text transform="translate(228.7,279.20000000000005) scale(1.05,1)" font-size="7.6" text-anchor="start" font-weight="normal" fill="#000" >0.0</text>
<rect x="221.60" y="259.90" width="3.2" height="1.2" fill="#fff"/>
<line x1="221.9" y1="259.5" x2="224.5" y2="259.5" stroke="#000" stroke-width="0.8" />
<line x1="221.9" y1="261.5" x2="224.5" y2="261.5" stroke="#000" stroke-width="0.8" />
<text transform="translate(245.79999999999998,220.7) rotate(90)" font-size="9.2" text-anchor="middle" font-weight="normal" fill="#000" textLength="65.6" lengthAdjust="spacingAndGlyphs" stroke="#000" stroke-width="0.28">FVIII inhibitor [BU/ml]</text>
<text transform="translate(22.6,226.4) rotate(-90)" font-size="9.4" text-anchor="middle" textLength="74.6" lengthAdjust="spacingAndGlyphs" stroke="#000" stroke-width="0.32">Mean K<tspan font-size="5.5" dx="0.9" dy="2.3">A</tspan><tspan dy="-2.3" dx="0.5"> ±95% CI [M</tspan><tspan font-size="5.5" dy="-3.2">-1</tspan><tspan dy="3.2">]</tspan></text>
<line x1="54" y1="259.4" x2="221" y2="259.4" stroke="#c42f5c" stroke-width="1.1" stroke-dasharray="1,1"/>
<line x1="65.2" y1="276.8" x2="65.2" y2="279.8" stroke="#000" stroke-width="0.8" />
<text transform="translate(67.8,286.0) rotate(-45)" font-size="7.7" text-anchor="end" font-weight="normal" fill="#000" stroke="#000" stroke-width="0.18">B</text>
<line x1="89.5" y1="276.8" x2="89.5" y2="279.8" stroke="#000" stroke-width="0.8" />
<text transform="translate(92.1,286.0) rotate(-45)" font-size="7.7" text-anchor="end" font-weight="normal" fill="#000" stroke="#000" stroke-width="0.18">ED1</text>
<line x1="113.80000000000001" y1="276.8" x2="113.80000000000001" y2="279.8" stroke="#000" stroke-width="0.8" />
<text transform="translate(116.4,286.0) rotate(-45)" font-size="7.7" text-anchor="end" font-weight="normal" fill="#000" stroke="#000" stroke-width="0.18">ED5</text>
<line x1="138.10000000000002" y1="276.8" x2="138.10000000000002" y2="279.8" stroke="#000" stroke-width="0.8" />
<text transform="translate(140.70000000000002,286.0) rotate(-45)" font-size="7.7" text-anchor="end" font-weight="normal" fill="#000" stroke="#000" stroke-width="0.18">ED10</text>
<line x1="162.4" y1="276.8" x2="162.4" y2="279.8" stroke="#000" stroke-width="0.8" />
<text transform="translate(165.0,286.0) rotate(-45)" font-size="7.7" text-anchor="end" font-weight="normal" fill="#000" stroke="#000" stroke-width="0.18">ED37</text>
<line x1="186.7" y1="276.8" x2="186.7" y2="279.8" stroke="#000" stroke-width="0.8" />
<text transform="translate(189.29999999999998,286.0) rotate(-45)" font-size="7.7" text-anchor="end" font-weight="normal" fill="#000" stroke="#000" stroke-width="0.18">ED39</text>
<line x1="211.0" y1="276.8" x2="211.0" y2="279.8" stroke="#000" stroke-width="0.8" />
<text transform="translate(213.6,286.0) rotate(-45)" font-size="7.7" text-anchor="end" font-weight="normal" fill="#000" stroke="#000" stroke-width="0.18">ED50</text>
<path d="M63.45,268.8 L65.2,266.95 L66.95,268.8 L65.2,270.65000000000003 Z" fill="#a50d2a"/>
<path d="M87.75,268.8 L89.5,266.95 L91.25,268.8 L89.5,270.65000000000003 Z" fill="#a50d2a"/>
<path d="M112.05000000000001,268.8 L113.80000000000001,266.95 L115.55000000000001,268.8 L113.80000000000001,270.65000000000003 Z" fill="#a50d2a"/>
<path d="M136.35000000000002,268.8 L138.10000000000002,266.95 L139.85000000000002,268.8 L138.10000000000002,270.65000000000003 Z" fill="#a50d2a"/>
<path d="M160.65,268.8 L162.4,266.95 L164.15,268.8 L162.4,270.65000000000003 Z" fill="#a50d2a"/>
<path d="M184.95,268.8 L186.7,266.95 L188.45,268.8 L186.7,270.65000000000003 Z" fill="#a50d2a"/>
<path d="M209.25,268.8 L211.0,266.95 L212.75,268.8 L211.0,270.65000000000003 Z" fill="#a50d2a"/>
<rect x="57.00" y="261.1" width="5.0" height="4.80" rx="0.35" fill="#fff" stroke="#4f6aa8" stroke-width="0.85"/>
<line x1="57.0" y1="263.5" x2="62.0" y2="263.5" stroke="#4f6aa8" stroke-width="0.7" />
<rect x="105.60" y="230.9" width="5.0" height="10.00" rx="0.35" fill="#fff" stroke="#4f6aa8" stroke-width="0.85"/>
<line x1="105.6" y1="233.2" x2="110.6" y2="233.2" stroke="#4f6aa8" stroke-width="0.7" />
<line x1="105.6" y1="234.8" x2="110.6" y2="234.8" stroke="#4f6aa8" stroke-width="0.7" />
<rect x="116.60" y="256.3" width="5.0" height="4.20" rx="0.35" fill="#b9c3de" stroke="#4f6aa8" stroke-width="0.8"/>
<line x1="116.6" y1="257.8" x2="121.6" y2="257.8" stroke="#4f6aa8" stroke-width="0.7" />
<line x1="116.6" y1="259.1" x2="121.6" y2="259.1" stroke="#4f6aa8" stroke-width="0.7" />
<rect x="129.90" y="219.8" width="5.0" height="6.30" rx="0.35" fill="#fff" stroke="#4f6aa8" stroke-width="0.85"/>
<line x1="129.9" y1="222.7" x2="134.9" y2="222.7" stroke="#4f6aa8" stroke-width="0.7" />
<rect x="140.90" y="253.4" width="5.0" height="4.10" rx="0.35" fill="#b9c3de" stroke="#4f6aa8" stroke-width="0.8"/>
<line x1="140.9" y1="255.4" x2="145.9" y2="255.4" stroke="#4f6aa8" stroke-width="0.7" />
<rect x="63.5" y="174.5" width="3" height="3" fill="#fff" stroke="#4f6aa8" stroke-width="1"/>
<text transform="translate(70.60000000000001,178.05)" font-size="7.15" text-anchor="start" font-weight="normal" fill="#000" stroke="#000" stroke-width="0.12">IgG1 Population 1</text>
<rect x="63.5" y="185.5" width="3" height="3" fill="#aab5d6" stroke="#4f6aa8" stroke-width="1"/>
<text transform="translate(70.60000000000001,189.85)" font-size="7.15" text-anchor="start" font-weight="normal" fill="#000" stroke="#000" stroke-width="0.12">IgG1 Population 2</text>
<path d="M63.60000000000001,199.1 L65.30000000000001,197.29999999999998 L67.00000000000001,199.1 L65.30000000000001,200.9 Z" fill="#a50d2a"/>
<text transform="translate(70.60000000000001,201.65)" font-size="7.15" text-anchor="start" font-weight="normal" fill="#000" stroke="#000" stroke-width="0.12">BU/ml</text>
<text transform="translate(137.2,313.0)" font-size="9.4" text-anchor="middle" font-weight="normal" fill="#000" textLength="69.5" lengthAdjust="spacingAndGlyphs" stroke="#000" stroke-width="0.32">Observation time [days]</text>
<text transform="translate(263.0,169.0)" font-size="11.2" text-anchor="start" font-weight="bold" fill="#000" stroke="#000" stroke-width="0.2">D</text>
<line x1="311.6" y1="166.5" x2="311.6" y2="276.8" stroke="#000" stroke-width="1.15" />
<line x1="308.6" y1="169.2" x2="311.6" y2="169.2" stroke="#000" stroke-width="0.8" />
<text transform="translate(299.40000000000003,172.1) scale(1.05,1)" font-size="7.8" text-anchor="end" font-weight="normal" fill="#000" stroke="#000" stroke-width="0.18">10</text>
<text transform="translate(299.70000000000005,169.5)" font-size="5.9" text-anchor="start" font-weight="normal" fill="#000" stroke="#000" stroke-width="0.18">12</text>
<line x1="308.6" y1="189.47" x2="311.6" y2="189.47" stroke="#000" stroke-width="0.8" />
<text transform="translate(299.40000000000003,192.37) scale(1.05,1)" font-size="7.8" text-anchor="end" font-weight="normal" fill="#000" stroke="#000" stroke-width="0.18">10</text>
<text transform="translate(299.70000000000005,189.77)" font-size="5.9" text-anchor="start" font-weight="normal" fill="#000" stroke="#000" stroke-width="0.18">11</text>
<line x1="308.6" y1="209.73999999999998" x2="311.6" y2="209.73999999999998" stroke="#000" stroke-width="0.8" />
<text transform="translate(299.40000000000003,212.64) scale(1.05,1)" font-size="7.8" text-anchor="end" font-weight="normal" fill="#000" stroke="#000" stroke-width="0.18">10</text>
<text transform="translate(299.70000000000005,210.04)" font-size="5.9" text-anchor="start" font-weight="normal" fill="#000" stroke="#000" stroke-width="0.18">10</text>
<line x1="308.6" y1="230.01" x2="311.6" y2="230.01" stroke="#000" stroke-width="0.8" />
<text transform="translate(302.70000000000005,232.91) scale(1.05,1)" font-size="7.8" text-anchor="end" font-weight="normal" fill="#000" stroke="#000" stroke-width="0.18">10</text>
<text transform="translate(303.00000000000006,230.31)" font-size="5.9" text-anchor="start" font-weight="normal" fill="#000" stroke="#000" stroke-width="0.18">9</text>
<line x1="308.6" y1="250.27999999999997" x2="311.6" y2="250.27999999999997" stroke="#000" stroke-width="0.8" />
<text transform="translate(302.70000000000005,253.18) scale(1.05,1)" font-size="7.8" text-anchor="end" font-weight="normal" fill="#000" stroke="#000" stroke-width="0.18">10</text>
<text transform="translate(303.00000000000006,250.58)" font-size="5.9" text-anchor="start" font-weight="normal" fill="#000" stroke="#000" stroke-width="0.18">8</text>
<line x1="308.6" y1="270.54999999999995" x2="311.6" y2="270.54999999999995" stroke="#000" stroke-width="0.8" />
<text transform="translate(302.70000000000005,273.45) scale(1.05,1)" font-size="7.8" text-anchor="end" font-weight="normal" fill="#000" stroke="#000" stroke-width="0.18">10</text>
<text transform="translate(303.00000000000006,270.85)" font-size="5.9" text-anchor="start" font-weight="normal" fill="#000" stroke="#000" stroke-width="0.18">7</text>
<line x1="311.1" y1="276.8" x2="482.5" y2="276.8" stroke="#000" stroke-width="1.2" />
<line x1="482.5" y1="167.0" x2="482.5" y2="276.8" stroke="#000" stroke-width="1.15" />
<line x1="482.5" y1="168.9" x2="485.5" y2="168.9" stroke="#000" stroke-width="0.8" />
<text transform="translate(488.0,171.5) scale(1.05,1)" font-size="7.6" text-anchor="start" font-weight="normal" fill="#000" >10</text>
<line x1="482.5" y1="188.1" x2="485.5" y2="188.1" stroke="#000" stroke-width="0.8" />
<text transform="translate(488.0,190.7) scale(1.05,1)" font-size="7.6" text-anchor="start" font-weight="normal" fill="#000" >8</text>
<line x1="482.5" y1="207.3" x2="485.5" y2="207.3" stroke="#000" stroke-width="0.8" />
<text transform="translate(488.0,209.9) scale(1.05,1)" font-size="7.6" text-anchor="start" font-weight="normal" fill="#000" >6</text>
<line x1="482.5" y1="226.5" x2="485.5" y2="226.5" stroke="#000" stroke-width="0.8" />
<text transform="translate(488.0,229.1) scale(1.05,1)" font-size="7.6" text-anchor="start" font-weight="normal" fill="#000" >4</text>
<line x1="482.5" y1="245.7" x2="485.5" y2="245.7" stroke="#000" stroke-width="0.8" />
<text transform="translate(488.0,248.29999999999998) scale(1.05,1)" font-size="7.6" text-anchor="start" font-weight="normal" fill="#000" >2</text>
<line x1="482.5" y1="258.9" x2="485.5" y2="258.9" stroke="#000" stroke-width="0.8" />
<text transform="translate(488.0,261.5) scale(1.05,1)" font-size="7.6" text-anchor="start" font-weight="normal" fill="#000" >0.6</text>
<line x1="482.5" y1="266.4" x2="485.5" y2="266.4" stroke="#000" stroke-width="0.8" />
<text transform="translate(488.0,269.0) scale(1.05,1)" font-size="7.6" text-anchor="start" font-weight="normal" fill="#000" >0.4</text>
<line x1="482.5" y1="276.6" x2="485.5" y2="276.6" stroke="#000" stroke-width="0.8" />
<text transform="translate(488.0,279.20000000000005) scale(1.05,1)" font-size="7.6" text-anchor="start" font-weight="normal" fill="#000" >0.0</text>
<rect x="480.90" y="259.90" width="3.2" height="1.2" fill="#fff"/>
<line x1="481.2" y1="259.5" x2="483.8" y2="259.5" stroke="#000" stroke-width="0.8" />
<line x1="481.2" y1="261.5" x2="483.8" y2="261.5" stroke="#000" stroke-width="0.8" />
<text transform="translate(505.3,220.7) rotate(90)" font-size="9.2" text-anchor="middle" font-weight="normal" fill="#000" textLength="65.6" lengthAdjust="spacingAndGlyphs" stroke="#000" stroke-width="0.28">FVIII inhibitor [BU/ml]</text>
<text transform="translate(281,221.5) rotate(-90)" font-size="9.4" text-anchor="middle" textLength="74.6" lengthAdjust="spacingAndGlyphs" stroke="#000" stroke-width="0.32">Mean K<tspan font-size="5.5" dx="0.9" dy="2.3">A</tspan><tspan dy="-2.3" dx="0.5"> ±95% CI [M</tspan><tspan font-size="5.5" dy="-3.2">-1</tspan><tspan dy="3.2">]</tspan></text>
<line x1="313" y1="259.4" x2="480" y2="259.4" stroke="#c42f5c" stroke-width="1.1" stroke-dasharray="1,1"/>
<line x1="322.3" y1="276.8" x2="322.3" y2="279.8" stroke="#000" stroke-width="0.8" />
<text transform="translate(324.90000000000003,286.0) rotate(-45)" font-size="7.7" text-anchor="end" font-weight="normal" fill="#000" stroke="#000" stroke-width="0.18">B</text>
<line x1="343.6" y1="276.8" x2="343.6" y2="279.8" stroke="#000" stroke-width="0.8" />
<text transform="translate(346.20000000000005,286.0) rotate(-45)" font-size="7.7" text-anchor="end" font-weight="normal" fill="#000" stroke="#000" stroke-width="0.18">ED1</text>
<line x1="364.90000000000003" y1="276.8" x2="364.90000000000003" y2="279.8" stroke="#000" stroke-width="0.8" />
<text transform="translate(367.50000000000006,286.0) rotate(-45)" font-size="7.7" text-anchor="end" font-weight="normal" fill="#000" stroke="#000" stroke-width="0.18">ED5</text>
<line x1="386.20000000000005" y1="276.8" x2="386.20000000000005" y2="279.8" stroke="#000" stroke-width="0.8" />
<text transform="translate(388.80000000000007,286.0) rotate(-45)" font-size="7.7" text-anchor="end" font-weight="normal" fill="#000" stroke="#000" stroke-width="0.18">ED10</text>
<line x1="407.5" y1="276.8" x2="407.5" y2="279.8" stroke="#000" stroke-width="0.8" />
<text transform="translate(410.1,286.0) rotate(-45)" font-size="7.7" text-anchor="end" font-weight="normal" fill="#000" stroke="#000" stroke-width="0.18">ED20</text>
<line x1="428.8" y1="276.8" x2="428.8" y2="279.8" stroke="#000" stroke-width="0.8" />
<text transform="translate(431.40000000000003,286.0) rotate(-45)" font-size="7.7" text-anchor="end" font-weight="normal" fill="#000" stroke="#000" stroke-width="0.18">ED30</text>
<line x1="450.1" y1="276.8" x2="450.1" y2="279.8" stroke="#000" stroke-width="0.8" />
<text transform="translate(452.70000000000005,286.0) rotate(-45)" font-size="7.7" text-anchor="end" font-weight="normal" fill="#000" stroke="#000" stroke-width="0.18">ED40</text>
<line x1="471.4" y1="276.8" x2="471.4" y2="279.8" stroke="#000" stroke-width="0.8" />
<text transform="translate(474.0,286.0) rotate(-45)" font-size="7.7" text-anchor="end" font-weight="normal" fill="#000" stroke="#000" stroke-width="0.18">ED50</text>
<path d="M341.85,270.3 L343.6,268.45 L345.35,270.3 L343.6,272.15000000000003 Z" fill="#a50d2a"/>
<path d="M363.15000000000003,270.3 L364.90000000000003,268.45 L366.65000000000003,270.3 L364.90000000000003,272.15000000000003 Z" fill="#a50d2a"/>
<path d="M384.45000000000005,270.3 L386.20000000000005,268.45 L387.95000000000005,270.3 L386.20000000000005,272.15000000000003 Z" fill="#a50d2a"/>
<path d="M405.75,270.3 L407.5,268.45 L409.25,270.3 L407.5,272.15000000000003 Z" fill="#a50d2a"/>
<path d="M427.05,270.3 L428.8,268.45 L430.55,270.3 L428.8,272.15000000000003 Z" fill="#a50d2a"/>
<path d="M448.35,270.3 L450.1,268.45 L451.85,270.3 L450.1,272.15000000000003 Z" fill="#a50d2a"/>
<path d="M469.65,270.3 L471.4,268.45 L473.15,270.3 L471.4,272.15000000000003 Z" fill="#a50d2a"/>
<rect x="357.80" y="248" width="5.0" height="5.80" rx="0.35" fill="#fff" stroke="#4f6aa8" stroke-width="0.85"/>
<line x1="357.8" y1="251" x2="362.8" y2="251" stroke="#4f6aa8" stroke-width="0.7" />
<rect x="379.10" y="213" width="5.0" height="10.50" rx="0.35" fill="#fff" stroke="#4f6aa8" stroke-width="0.85"/>
<line x1="379.1" y1="215.4" x2="384.1" y2="215.4" stroke="#4f6aa8" stroke-width="0.7" />
<line x1="379.1" y1="217.3" x2="384.1" y2="217.3" stroke="#4f6aa8" stroke-width="0.7" />
<rect x="388.70" y="251" width="5.0" height="7.70" rx="0.35" fill="#b9c3de" stroke="#4f6aa8" stroke-width="0.8"/>
<line x1="388.7" y1="253.5" x2="393.7" y2="253.5" stroke="#4f6aa8" stroke-width="0.7" />
<line x1="388.7" y1="256" x2="393.7" y2="256" stroke="#4f6aa8" stroke-width="0.7" />
<rect x="400.40" y="208" width="5.0" height="12.80" rx="0.35" fill="#fff" stroke="#4f6aa8" stroke-width="0.85"/>
<line x1="400.4" y1="209.6" x2="405.4" y2="209.6" stroke="#4f6aa8" stroke-width="0.7" />
<line x1="400.4" y1="213" x2="405.4" y2="213" stroke="#4f6aa8" stroke-width="0.7" />
<rect x="410.00" y="248.5" width="5.0" height="4.40" rx="0.35" fill="#b9c3de" stroke="#4f6aa8" stroke-width="0.8"/>
<line x1="410.0" y1="250.7" x2="415.0" y2="250.7" stroke="#4f6aa8" stroke-width="0.7" />
<rect x="421.70" y="216.8" width="5.0" height="7.60" rx="0.35" fill="#fff" stroke="#4f6aa8" stroke-width="0.85"/>
<line x1="421.7" y1="220.4" x2="426.7" y2="220.4" stroke="#4f6aa8" stroke-width="0.7" />
<rect x="431.30" y="251.2" width="5.0" height="3.60" rx="0.35" fill="#b9c3de" stroke="#4f6aa8" stroke-width="0.8"/>
<line x1="431.3" y1="253" x2="436.3" y2="253" stroke="#4f6aa8" stroke-width="0.7" />
<rect x="443.00" y="191.5" width="5.0" height="3.10" rx="0.35" fill="#aab6d6" stroke="#4f6aa8" stroke-width="0.85"/>
<line x1="443.0" y1="193" x2="448.0" y2="193" stroke="#4f6aa8" stroke-width="0.7" />
<rect x="452.60" y="222" width="5.0" height="8.40" rx="0.35" fill="#b9c3de" stroke="#4f6aa8" stroke-width="0.8"/>
<line x1="452.6" y1="225.1" x2="457.6" y2="225.1" stroke="#4f6aa8" stroke-width="0.7" />
<line x1="452.6" y1="227.5" x2="457.6" y2="227.5" stroke="#4f6aa8" stroke-width="0.7" />
<rect x="464.30" y="222" width="5.0" height="7.90" rx="0.35" fill="#fff" stroke="#4f6aa8" stroke-width="0.85"/>
<line x1="464.3" y1="225.6" x2="469.3" y2="225.6" stroke="#4f6aa8" stroke-width="0.7" />
<rect x="473.90" y="251.4" width="5.0" height="3.40" rx="0.35" fill="#b9c3de" stroke="#4f6aa8" stroke-width="0.8"/>
<line x1="473.9" y1="253.1" x2="478.9" y2="253.1" stroke="#4f6aa8" stroke-width="0.7" />
<rect x="320.5" y="174.5" width="3" height="3" fill="#fff" stroke="#4f6aa8" stroke-width="1"/>
<text transform="translate(327.3,178.05)" font-size="7.15" text-anchor="start" font-weight="normal" fill="#000" stroke="#000" stroke-width="0.12">IgG1 Population 1</text>
<rect x="320.5" y="185.5" width="3" height="3" fill="#aab5d6" stroke="#4f6aa8" stroke-width="1"/>
<text transform="translate(327.3,189.85)" font-size="7.15" text-anchor="start" font-weight="normal" fill="#000" stroke="#000" stroke-width="0.12">IgG1 Population 2</text>
<path d="M320.3,199.1 L322.0,197.29999999999998 L323.7,199.1 L322.0,200.9 Z" fill="#a50d2a"/>
<text transform="translate(327.3,201.65)" font-size="7.15" text-anchor="start" font-weight="normal" fill="#000" stroke="#000" stroke-width="0.12">BU/ml</text>
<text transform="translate(396.8,313.0)" font-size="9.4" text-anchor="middle" font-weight="normal" fill="#000" textLength="69.5" lengthAdjust="spacingAndGlyphs" stroke="#000" stroke-width="0.32">Observation time [days]</text>
<rect x="0.5" y="0.5" width="519" height="321" fill="none" stroke="#000" stroke-width="1"/>
</svg>
</body></html>
